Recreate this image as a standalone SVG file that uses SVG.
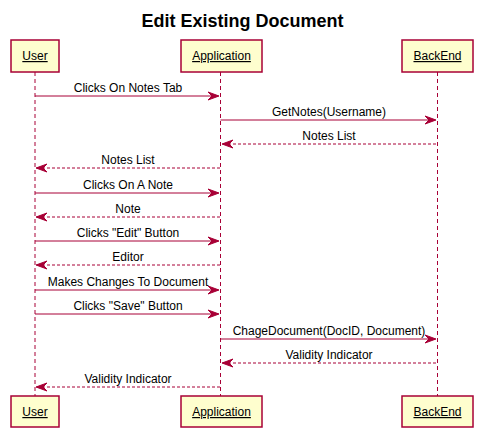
<svg xmlns="http://www.w3.org/2000/svg" width="481" height="433" viewBox="0 0 481 433">
<style>
.box{fill:#FEFECE;stroke:#A80036;stroke-width:1.5}
.life{stroke:#A80036;stroke-width:1;stroke-dasharray:4,3;fill:none}
.msg{stroke:#A80036;stroke-width:1;fill:none}
.ret{stroke:#A80036;stroke-width:1;fill:none;stroke-dasharray:3,2}
.head{fill:#A80036;stroke:#A80036;stroke-width:1}
.lbl{font-family:"Liberation Sans",Arial,sans-serif;font-size:12px;fill:#000;text-anchor:middle}
.pl{font-family:"Liberation Sans",Arial,sans-serif;font-size:12px;fill:#000;text-anchor:middle;text-decoration:underline}
.title{font-family:"Liberation Sans",Arial,sans-serif;font-size:18px;font-weight:bold;fill:#000;text-anchor:middle}
</style>
<rect width="481" height="433" fill="#FFFFFF"/>
<text class="title" x="242.5" y="27">Edit Existing Document</text>
<g id="lifelines">
<line class="life" x1="35" y1="72" x2="35" y2="396"/>
<line class="life" x1="220.5" y1="72" x2="220.5" y2="396"/>
<line class="life" x1="437.5" y1="72" x2="437.5" y2="396"/>
</g>
<g id="User">
<rect class="box" x="11" y="40" width="48" height="32"/>
<text class="pl" x="35" y="60">User</text>
<rect class="box" x="11" y="396" width="48" height="31"/>
<text class="pl" x="35" y="416">User</text>
</g>
<g id="Application">
<rect class="box" x="181" y="40" width="81" height="32"/>
<text class="pl" x="221.5" y="60">Application</text>
<rect class="box" x="181" y="396" width="81" height="31"/>
<text class="pl" x="221.5" y="416">Application</text>
</g>
<g id="BackEnd">
<rect class="box" x="402" y="40" width="71" height="32"/>
<text class="pl" x="437.5" y="60">BackEnd</text>
<rect class="box" x="402" y="396" width="71" height="31"/>
<text class="pl" x="437.5" y="416">BackEnd</text>
</g>
<g id="connectors">
<line class="msg" x1="35" y1="96" x2="218" y2="96"/>
<polygon class="head" points="208,92 219,96 208,100 212,96"/>
<text class="lbl" x="128" y="92">Clicks On Notes Tab</text>

<line class="msg" x1="220.5" y1="120" x2="435" y2="120"/>
<polygon class="head" points="425,116 436,120 425,124 429,120"/>
<text class="lbl" x="329" y="116">GetNotes(Username)</text>

<line class="ret" x1="223" y1="144" x2="437.5" y2="144"/>
<polygon class="head" points="233,140 222,144 233,148 229,144"/>
<text class="lbl" x="329" y="140">Notes List</text>

<line class="ret" x1="37" y1="168" x2="220.5" y2="168"/>
<polygon class="head" points="47,164 36,168 47,172 43,168"/>
<text class="lbl" x="128" y="164">Notes List</text>

<line class="msg" x1="35" y1="193" x2="218" y2="193"/>
<polygon class="head" points="208,189 219,193 208,197 212,193"/>
<text class="lbl" x="128" y="189">Clicks On A Note</text>

<line class="ret" x1="37" y1="217" x2="220.5" y2="217"/>
<polygon class="head" points="47,213 36,217 47,221 43,217"/>
<text class="lbl" x="128" y="213">Note</text>

<line class="msg" x1="35" y1="241" x2="218" y2="241"/>
<polygon class="head" points="208,237 219,241 208,245 212,241"/>
<text class="lbl" x="128" y="237">Clicks "Edit" Button</text>

<line class="ret" x1="37" y1="265" x2="220.5" y2="265"/>
<polygon class="head" points="47,261 36,265 47,269 43,265"/>
<text class="lbl" x="128" y="261">Editor</text>

<line class="msg" x1="35" y1="290" x2="218" y2="290"/>
<polygon class="head" points="208,286 219,290 208,294 212,290"/>
<text class="lbl" x="128" y="286">Makes Changes To Document</text>

<line class="msg" x1="35" y1="314" x2="218" y2="314"/>
<polygon class="head" points="208,310 219,314 208,318 212,314"/>
<text class="lbl" x="128" y="310">Clicks "Save" Button</text>

<line class="msg" x1="220.5" y1="339" x2="435" y2="339"/>
<polygon class="head" points="425,335 436,339 425,343 429,339"/>
<text class="lbl" x="329" y="335">ChageDocument(DocID, Document)</text>

<line class="ret" x1="223" y1="363" x2="437.5" y2="363"/>
<polygon class="head" points="233,359 222,363 233,367 229,363"/>
<text class="lbl" x="329" y="359">Validity Indicator</text>

<line class="ret" x1="37" y1="387" x2="220.5" y2="387"/>
<polygon class="head" points="47,383 36,387 47,391 43,387"/>
<text class="lbl" x="128" y="383">Validity Indicator</text>
</g>
</svg>
